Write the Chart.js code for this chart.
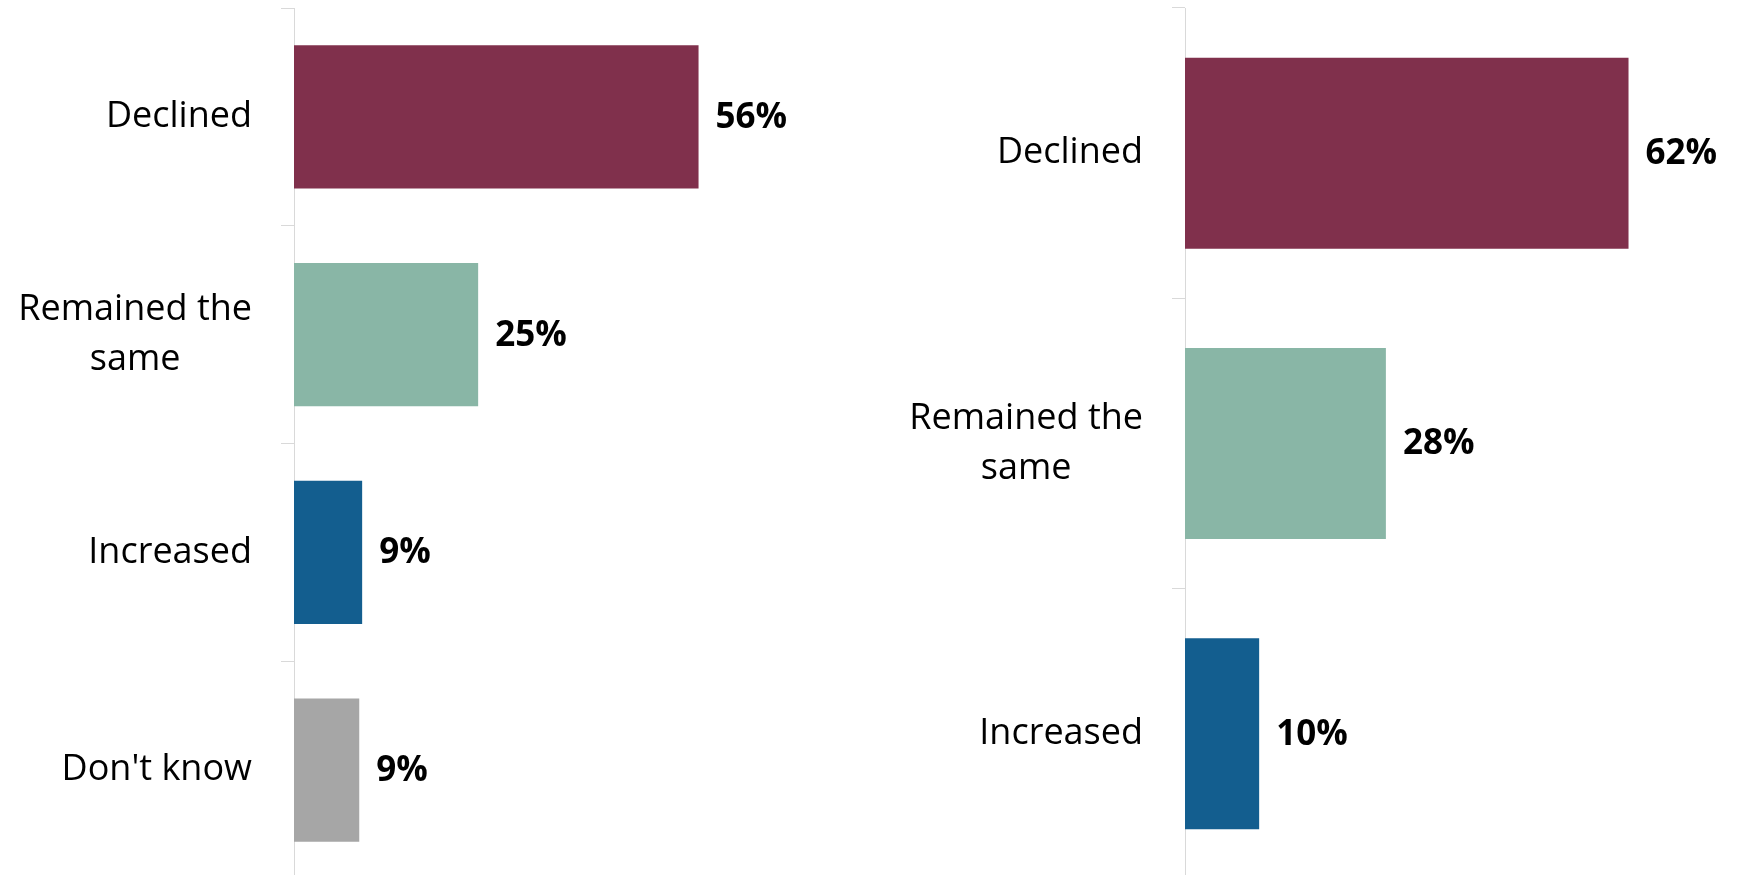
<!DOCTYPE html>
<html>
<head>
<meta charset="utf-8">
<script src="https://cdn.jsdelivr.net/npm/chart.js@4/dist/chart.umd.min.js"></script>
<style>
  html, body { margin: 0; padding: 0; background: #ffffff; overflow: hidden; }
  #wrap { position: relative; width: 1739px; height: 875px; overflow: hidden; }
  canvas { position: absolute; top: 0; }
</style>
</head>
<body>
<div id="wrap">
  <canvas id="left" width="880" height="880" style="left:0px"></canvas>
  <canvas id="right" width="859" height="880" style="left:880px"></canvas>
</div>
<script>
// ---- Data (percent; labels show rounded values) ----
const leftCategories = ['Declined', ['Remained the', 'same'], 'Increased', "Don't know"];
const leftValues = [55.8, 25.4, 9.4, 9.0];
const leftColors = ['#80304C', '#89B6A6', '#135E8F', '#A6A6A6'];

const rightCategories = ['Declined', ['Remained the', 'same'], 'Increased'];
const rightValues = [61.6, 27.9, 10.3];
const rightColors = ['#80304C', '#89B6A6', '#135E8F'];

const FONT = "'Open Sans', 'Noto Sans', 'DejaVu Sans', sans-serif";
const TICK_LEN = 13;
const TICK_PAD = 29;
const LABEL_LINE_H = 49.6;

// value labels at the end of each bar
const valueLabels = {
  id: 'valueLabels',
  afterDatasetsDraw(chart) {
    const ctx = chart.ctx;
    const ds = chart.data.datasets[0];
    const meta = chart.getDatasetMeta(0);
    ctx.save();
    ctx.font = "bold 35px " + FONT;
    ctx.fillStyle = '#000000';
    ctx.textAlign = 'left';
    ctx.textBaseline = 'middle';
    meta.data.forEach((bar, i) => {
      ctx.fillText(Math.round(ds.data[i]) + '%', bar.x + 17, bar.y + 1);
    });
    ctx.restore();
  }
};

// category labels: block right-aligned to the axis, lines centred within the block
const categoryLabels = {
  id: 'categoryLabels',
  afterDraw(chart) {
    const ctx = chart.ctx;
    const scale = chart.scales.y;
    const xr = scale.right - TICK_LEN - TICK_PAD;
    ctx.save();
    ctx.font = "36px " + FONT;
    ctx.fillStyle = '#000000';
    ctx.textAlign = 'center';
    ctx.textBaseline = 'middle';
    chart.data.labels.forEach((lab, i) => {
      const lines = Array.isArray(lab) ? lab : [lab];
      const w = Math.max(...lines.map(l => ctx.measureText(l).width));
      const cx = xr - w / 2;
      const yc = scale.getPixelForTick(i);
      const y0 = yc - (lines.length - 1) * LABEL_LINE_H / 2;
      lines.forEach((l, k) => ctx.fillText(l, cx, y0 + k * LABEL_LINE_H));
    });
    ctx.restore();
  }
};

function makeChart(id, cats, vals, colors, axisWidth, xMax, padRight) {
  return new Chart(document.getElementById(id), {
    type: 'bar',
    data: {
      labels: cats,
      datasets: [{
        data: vals,
        backgroundColor: colors,
        borderWidth: 0,
        barPercentage: 0.658,
        categoryPercentage: 1.0
      }]
    },
    plugins: [valueLabels, categoryLabels],
    options: {
      indexAxis: 'y',
      responsive: false,
      animation: false,
      devicePixelRatio: 1,
      layout: { padding: { top: 8, bottom: 1, left: 0, right: padRight } },
      plugins: { legend: { display: false }, tooltip: { enabled: false } },
      scales: {
        x: { display: false, min: 0, max: xMax },
        y: {
          offset: true,
          grid: {
            offset: true,
            drawOnChartArea: false,
            drawTicks: true,
            tickLength: TICK_LEN,
            color: '#D9D9D9',
            lineWidth: 1
          },
          border: { display: true, color: '#D9D9D9', width: 1 },
          ticks: { display: false },
          afterFit(scale) {
            scale.width = axisWidth;
            scale.paddingTop = 0;
            scale.paddingBottom = 0;
          }
        }
      }
    }
  });
}

makeChart('left', leftCategories, leftValues, leftColors, 294, 80, 6);
makeChart('right', rightCategories, rightValues, rightColors, 305, 75, 14);
</script>
</body>
</html>
